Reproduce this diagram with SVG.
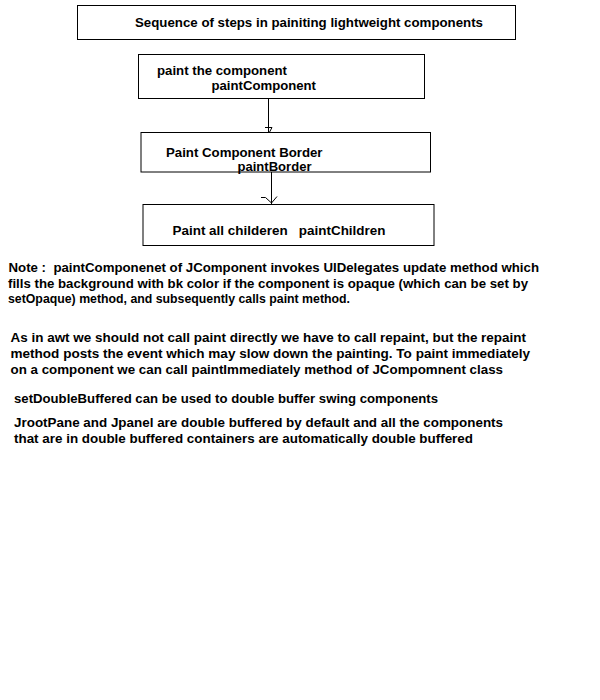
<svg xmlns="http://www.w3.org/2000/svg" width="600" height="700" viewBox="0 0 600 700">
<style>
.box{fill:#fff;stroke:#000;stroke-width:1}
.t{font-family:"Liberation Sans",Arial,sans-serif;font-weight:bold;font-size:13.5px;fill:#000;white-space:pre}
.c{stroke:#000;stroke-width:1;fill:none}
</style>
<rect width="600" height="700" fill="#fff"/>
<g id="title">
<rect class="box" x="77.5" y="5.5" width="438" height="34"/>
<text class="t" x="135" y="27" textLength="348" lengthAdjust="spacingAndGlyphs">Sequence of steps in painiting lightweight components</text>
</g>
<g id="connectors">
<line class="c" x1="268.5" y1="98" x2="268.5" y2="132"/>
<polyline class="c" points="265,127.5 272,127.5 268.5,134"/>
<line class="c" x1="271.5" y1="172" x2="271.5" y2="204"/>
<polyline class="c" points="261,197.5 265.5,197.5 271.5,203 277,196.5"/>
</g>
<g id="node1">
<rect class="box" x="138.5" y="54.5" width="286" height="44"/>
<text class="t" x="157" y="75" textLength="130" lengthAdjust="spacingAndGlyphs">paint the component</text>
<text class="t" x="211.5" y="90" textLength="104.5" lengthAdjust="spacingAndGlyphs">paintComponent</text>
</g>
<g id="node2">
<rect class="box" x="141" y="132.5" width="289.5" height="39.5"/>
<text class="t" x="166" y="157" textLength="156.5" lengthAdjust="spacingAndGlyphs">Paint Component Border</text>
<text class="t" x="237.5" y="171" textLength="74" lengthAdjust="spacingAndGlyphs">paintBorder</text>
</g>
<g id="node3">
<rect class="box" x="143" y="204.5" width="291" height="41"/>
<text class="t" x="172.5" y="234.5" textLength="213" lengthAdjust="spacingAndGlyphs" xml:space="preserve">Paint all childeren   paintChildren</text>
</g>
<g id="notes">
<text class="t" x="8.5" y="272" textLength="530.5" lengthAdjust="spacingAndGlyphs" xml:space="preserve">Note :  paintComponenet of JComponent invokes UIDelegates update method which</text>
<text class="t" x="8" y="287.5" textLength="520" lengthAdjust="spacingAndGlyphs">fills the background with bk color if the component is opaque (which can be set by</text>
<text class="t" x="8" y="303" textLength="342" lengthAdjust="spacingAndGlyphs">setOpaque) method, and subsequently calls paint method.</text>
<text class="t" x="10.5" y="342" textLength="515.5" lengthAdjust="spacingAndGlyphs">As in awt we should not call paint directly we have to call repaint, but the repaint</text>
<text class="t" x="10.5" y="358" textLength="519.5" lengthAdjust="spacingAndGlyphs">method posts the event which may slow down the painting. To paint immediately</text>
<text class="t" x="10.5" y="374" textLength="492.5" lengthAdjust="spacingAndGlyphs">on a component we can call paintImmediately method of JCompomnent class</text>
<text class="t" x="14" y="403" textLength="424" lengthAdjust="spacingAndGlyphs">setDoubleBuffered can be used to double buffer swing components</text>
<text class="t" x="14" y="427" textLength="489" lengthAdjust="spacingAndGlyphs">JrootPane and Jpanel are double buffered by default and all the components</text>
<text class="t" x="14" y="443" textLength="459" lengthAdjust="spacingAndGlyphs">that are in double buffered containers are automatically double buffered</text>
</g>
</svg>
